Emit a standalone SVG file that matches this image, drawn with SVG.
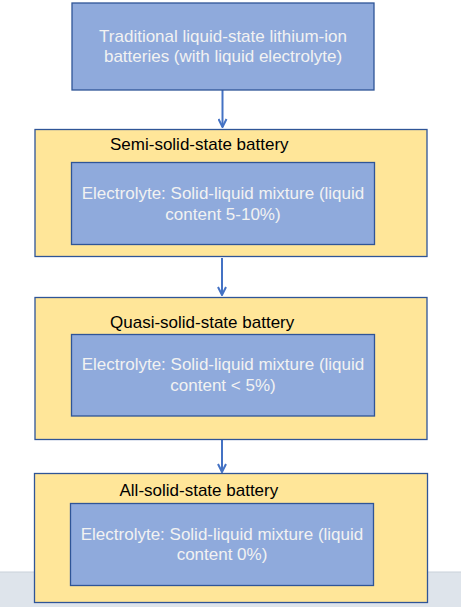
<svg xmlns="http://www.w3.org/2000/svg" width="461" height="607" viewBox="0 0 461 607">
<style>
.blue{fill:#8faadc;stroke:#2f5597;stroke-width:1.3}
.yellow{fill:#ffe699;stroke:#2f5597;stroke-width:1.3}
.wt{font-family:"Liberation Sans",Arial,sans-serif;font-size:17px;fill:#f2f2f2;text-anchor:middle}
.bt{font-family:"Liberation Sans",Arial,sans-serif;font-size:17px;fill:#000}
.conn{stroke:#4472c4;stroke-width:2;fill:none;marker-end:url(#ah)}
</style>
<defs>
<marker id="ah" viewBox="0 0 10 10" refX="9" refY="5" markerWidth="5" markerHeight="5" orient="auto" markerUnits="strokeWidth">
<path d="M1,1 L9,5 L1,9" fill="none" stroke="#4472c4" stroke-width="2"/>
</marker>
</defs>
<rect x="0" y="572" width="461" height="35" fill="#dee4eb"/>
<line x1="0" y1="572" x2="461" y2="572" stroke="#c9d1da" stroke-width="1"/>
<g id="connectors">
<line class="conn" x1="222.5" y1="90" x2="222.5" y2="127"/>
<line class="conn" x1="222" y1="258" x2="222" y2="295"/>
<line class="conn" x1="222" y1="440" x2="222" y2="472"/>
</g>
<g id="traditional">
<rect class="blue" x="72" y="3" width="302" height="87"/>
<text class="wt" x="223" y="42">Traditional liquid-state lithium-ion</text>
<text class="wt" x="223" y="62">batteries (with liquid electrolyte)</text>
</g>
<g id="semi">
<rect class="yellow" x="35" y="129.5" width="392" height="127"/>
<text class="bt" x="110" y="149.5">Semi-solid-state battery</text>
<g id="semi-electrolyte">
<rect class="blue" x="71.5" y="162.5" width="303" height="82"/>
<text class="wt" x="223" y="198.5">Electrolyte: Solid-liquid mixture (liquid</text>
<text class="wt" x="223" y="219.5">content 5-10%)</text>
</g>
</g>
<g id="quasi">
<rect class="yellow" x="35" y="297.5" width="392" height="142"/>
<text class="bt" x="110" y="328">Quasi-solid-state battery</text>
<g id="quasi-electrolyte">
<rect class="blue" x="71.5" y="334.5" width="303" height="81.5"/>
<text class="wt" x="223" y="370">Electrolyte: Solid-liquid mixture (liquid</text>
<text class="wt" x="223" y="391">content &lt; 5%)</text>
</g>
</g>
<g id="allsolid">
<rect class="yellow" x="34.5" y="473.5" width="393" height="129"/>
<text class="bt" x="119.5" y="496">All-solid-state battery</text>
<g id="all-electrolyte">
<rect class="blue" x="70.5" y="503.5" width="303" height="82"/>
<text class="wt" x="222" y="540">Electrolyte: Solid-liquid mixture (liquid</text>
<text class="wt" x="222" y="559.5">content 0%)</text>
</g>
</g>
</svg>
